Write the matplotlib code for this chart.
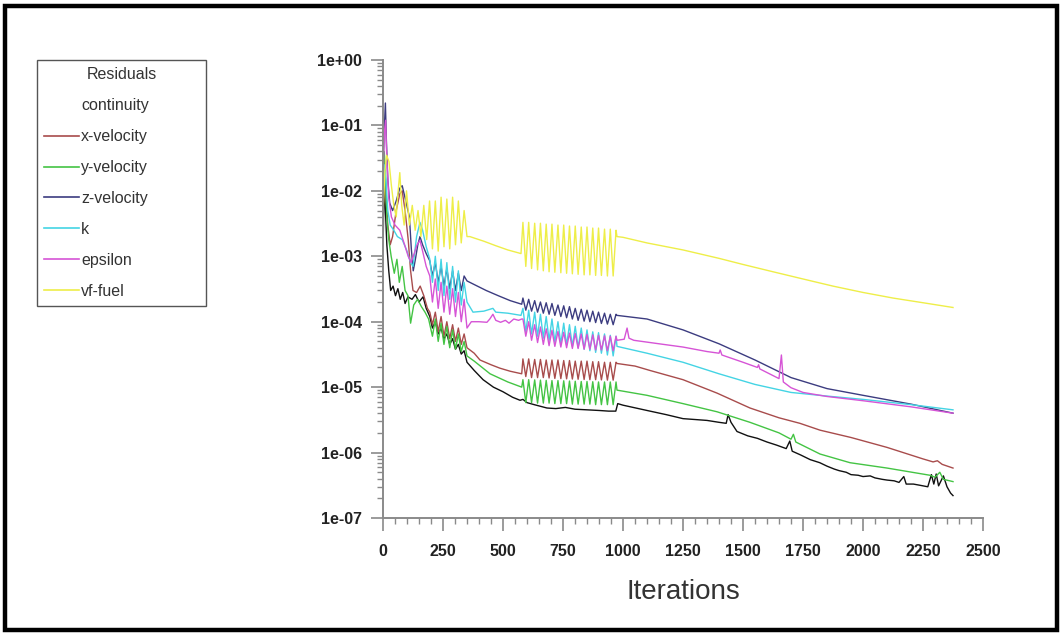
import matplotlib
matplotlib.use("Agg")
import matplotlib.pyplot as plt
from matplotlib.lines import Line2D
from matplotlib.patches import Rectangle
from matplotlib.ticker import LogLocator, MultipleLocator, FuncFormatter, NullFormatter

plt.rcParams['font.family'] = ['Liberation Sans', 'DejaVu Sans']

# Residual names and colours (legend order)
NAMES = ['continuity', 'x-velocity', 'y-velocity', 'z-velocity', 'k', 'epsilon', 'vf-fuel']
COLORS = ['#111111', '#a84c4c', '#44c444', '#3c3c80', '#44d4e4', '#d654d6', '#eeee48']
LEGEND_COLORS = ['#ffffff'] + COLORS[1:]

# shared iteration grids for the two oscillating phases
EZ_ITER = [206, 218, 230, 242, 254, 266, 278, 290, 302, 314, 326, 338, 350]
ZZ_ITER = [583, 595, 607, 619, 632, 644, 656, 668, 680, 692, 704, 716, 729, 741, 753, 765, 777,
           789, 801, 813, 826, 838, 850, 862, 874, 886, 898, 910, 923, 935, 947, 959, 971]

# ---- vf-fuel
fuel_a_it = [1, 8, 15, 25, 35, 45, 55, 62, 70, 78, 88, 98, 110, 122, 134, 146, 158, 170, 182, 194]
fuel_a = [5e-3, 2e-2, 3.5e-2, 2.8e-2, 1.2e-2, 6e-3, 4e-3, 9e-3, 1.9e-2, 6e-3, 3e-3, 1e-2, 3e-3,
          6e-3, 2.5e-3, 5e-3, 2e-3, 6e-3, 1.8e-3, 7e-3]
fuel_ez = [1.3e-3, 7e-3, 1.2e-3, 8e-3, 1.4e-3, 7.5e-3, 1.3e-3, 8e-3, 1.5e-3, 7e-3, 1.6e-3, 5e-3, 2e-3]
fuel_b_it = [362, 380, 420, 470, 520, 575]
fuel_b = [2.0e-3, 1.9e-3, 1.7e-3, 1.45e-3, 1.25e-3, 1.1e-3]
fuel_zz = [3.3e-3, 7e-4, 3.3e-3, 6.5e-4, 3.2e-3, 6.2e-4, 3.2e-3, 6e-4, 3.1e-3, 5.8e-4, 3.1e-3, 5.7e-4,
           3.0e-3, 5.6e-4, 3.0e-3, 5.5e-4, 2.9e-3, 5.4e-4, 2.9e-3, 5.3e-4, 2.8e-3, 5.2e-4, 2.8e-3,
           5.2e-4, 2.7e-3, 5.1e-4, 2.7e-3, 5.1e-4, 2.6e-3, 5e-4, 2.6e-3, 5e-4, 2.5e-3]
fuel_c_it = [975, 1000, 1100, 1250, 1400, 1500, 1625, 1750, 1875, 2000, 2125, 2250, 2375]
fuel_c = [2.0e-3, 1.95e-3, 1.6e-3, 1.25e-3, 9.3e-4, 7.5e-4, 5.8e-4, 4.5e-4, 3.5e-4, 2.8e-4,
          2.3e-4, 1.95e-4, 1.65e-4]

# ---- z-velocity
zvel_a_it = [1, 6, 10, 14, 20, 28, 40, 55, 70, 80, 95, 110, 118, 126, 135, 145, 154, 165, 180, 195]
zvel_a = [3e-2, 1e-1, 2.2e-1, 6e-2, 1.5e-2, 6.5e-3, 5e-3, 7e-3, 1.1e-2, 1.2e-2, 7e-3, 4e-3, 1.3e-3,
          6e-4, 9e-4, 1.5e-3, 2.0e-3, 1.5e-3, 1.1e-3, 8.5e-4]
zvel_ez = [5e-4, 8e-4, 4e-4, 7e-4, 3.5e-4, 6.5e-4, 3.2e-4, 6e-4, 3e-4, 5.5e-4, 3e-4, 5e-4, 4.2e-4]
zvel_b_it = [380, 430, 480, 530, 578]
zvel_b = [3.7e-4, 3e-4, 2.5e-4, 2.1e-4, 1.85e-4]
zvel_zz = [2.3e-4, 1.5e-4, 2.2e-4, 1.45e-4, 2.1e-4, 1.4e-4, 2.0e-4, 1.35e-4, 1.95e-4, 1.3e-4,
           1.9e-4, 1.25e-4, 1.8e-4, 1.2e-4, 1.75e-4, 1.15e-4, 1.7e-4, 1.1e-4, 1.6e-4, 1.05e-4,
           1.55e-4, 1.02e-4, 1.5e-4, 1e-4, 1.45e-4, 9.7e-5, 1.4e-4, 9.4e-5, 1.35e-4, 9.2e-5,
           1.3e-4, 9e-5, 1.3e-4]
zvel_c_it = [975, 1100, 1250, 1400, 1550, 1700, 1850, 2000, 2200, 2375]
zvel_c = [1.25e-4, 1.1e-4, 7.5e-5, 4.6e-5, 2.6e-5, 1.4e-5, 9.5e-6, 7.5e-6, 5.5e-6, 4.0e-6]

# ---- k
k_a_it = [1, 6, 12, 20, 30, 45, 60, 80, 100, 115, 125, 140, 154, 165, 180, 195]
k_a = [8e-3, 2.5e-2, 1.5e-2, 5e-3, 3e-3, 2.5e-3, 2e-3, 1.8e-3, 1.2e-3, 8e-4, 7e-4, 2e-3, 3.3e-3,
       2.5e-3, 1.4e-3, 9e-4]
k_ez = [4e-4, 1e-3, 3e-4, 9e-4, 2.5e-4, 8e-4, 2.2e-4, 7e-4, 2e-4, 6e-4, 1.8e-4, 4e-4, 2e-4]
k_b_it = [375, 420, 458, 470, 520, 575]
k_b = [1.4e-4, 1.45e-4, 1.6e-4, 1.4e-4, 1.35e-4, 1.25e-4]
k_zz = [1.6e-4, 7e-5, 1.5e-4, 6.5e-5, 1.4e-4, 6e-5, 1.3e-4, 5.6e-5, 1.2e-4, 5.2e-5, 1.1e-4, 4.9e-5,
        1.0e-4, 4.6e-5, 9.5e-5, 4.4e-5, 9e-5, 4.2e-5, 8.5e-5, 4e-5, 8e-5, 3.8e-5, 7.5e-5, 3.6e-5,
        7e-5, 3.4e-5, 6.8e-5, 3.3e-5, 6.5e-5, 3.1e-5, 6.2e-5, 3e-5, 6e-5]
k_c_it = [975, 1100, 1250, 1400, 1550, 1700, 1850, 2000, 2200, 2375]
k_c = [4.2e-5, 3.3e-5, 2.4e-5, 1.6e-5, 1.1e-5, 8.3e-6, 7.3e-6, 6.5e-6, 5.4e-6, 4.5e-6]

# ---- epsilon
eps_a_it = [1, 6, 11, 16, 24, 35, 50, 70, 90, 105, 117, 130, 142, 154, 165, 180, 195]
eps_a = [2e-2, 8e-2, 1.2e-1, 3e-2, 8e-3, 4e-3, 3e-3, 2.5e-3, 1.5e-3, 1e-3, 8e-4, 1.1e-3, 1.5e-3,
         1.75e-3, 1.2e-3, 7e-4, 5e-4]
eps_ez = [2e-4, 4.5e-4, 1.6e-4, 4e-4, 1.4e-4, 3.5e-4, 1.3e-4, 3.2e-4, 1.2e-4, 2.8e-4, 1e-4, 2.2e-4, 8e-5]
eps_b_it = [368, 400, 433, 445, 458, 470, 490, 510, 525, 545, 565, 578]
eps_b = [1.0e-4, 1.0e-4, 9.8e-5, 1.1e-4, 1.3e-4, 1.05e-4, 9.8e-5, 1.05e-4, 9.5e-5, 1.1e-4, 1.05e-4, 1.1e-4]
eps_zz = [1.1e-4, 6e-5, 1.0e-4, 5.2e-5, 9e-5, 4.8e-5, 8.3e-5, 4.5e-5, 7.8e-5, 4.3e-5, 7.4e-5, 4.2e-5,
          7.1e-5, 4.1e-5, 6.9e-5, 4e-5, 6.7e-5, 3.9e-5, 6.6e-5, 3.9e-5, 6.5e-5, 3.8e-5, 6.4e-5, 3.8e-5,
          6.3e-5, 3.7e-5, 6.2e-5, 3.7e-5, 6.1e-5, 3.6e-5, 6.0e-5, 3.6e-5, 6.0e-5]
eps_c_it = [975, 1005, 1017, 1025, 1045, 1150, 1250, 1350, 1400, 1405, 1412, 1500, 1560, 1565, 1570,
            1650, 1660, 1668, 1700, 1750, 1850, 2000, 2200, 2375]
eps_c = [5.2e-5, 5.4e-5, 8e-5, 5.6e-5, 5.2e-5, 4.6e-5, 4.1e-5, 3.5e-5, 3.3e-5, 3.7e-5, 3.1e-5,
         2.4e-5, 2e-5, 2.2e-5, 1.9e-5, 1.35e-5, 3.1e-5, 1.2e-5, 9.8e-6, 8.3e-6, 7.2e-6, 6.2e-6,
         5e-6, 4.0e-6]

# ---- x-velocity
xvel_a_it = [1, 6, 12, 20, 30, 40, 55, 70, 80, 92, 105, 115, 125, 140, 155, 170, 185, 195]
xvel_a = [5e-3, 2.5e-2, 1e-2, 3e-3, 1.5e-3, 2e-3, 5e-3, 9e-3, 1e-2, 5e-3, 1.8e-3, 6e-4, 3e-4,
          2.8e-4, 3.5e-4, 2.5e-4, 1.6e-4, 1.4e-4]
xvel_ez = [9e-5, 1.4e-4, 7e-5, 1.2e-4, 6e-5, 1e-4, 5.5e-5, 9e-5, 5e-5, 8e-5, 4.5e-5, 6.5e-5, 4e-5]
xvel_b_it = [380, 404, 450, 487, 530, 578]
xvel_b = [3.3e-5, 2.6e-5, 2.2e-5, 1.95e-5, 1.75e-5, 1.6e-5]
xvel_zz = [2.7e-5, 1.45e-5, 2.7e-5, 1.4e-5, 2.65e-5, 1.4e-5, 2.65e-5, 1.4e-5, 2.6e-5, 1.38e-5,
           2.6e-5, 1.36e-5, 2.6e-5, 1.35e-5, 2.55e-5, 1.34e-5, 2.55e-5, 1.33e-5, 2.5e-5, 1.32e-5,
           2.5e-5, 1.31e-5, 2.5e-5, 1.3e-5, 2.45e-5, 1.3e-5, 2.45e-5, 1.29e-5, 2.4e-5, 1.28e-5,
           2.4e-5, 1.28e-5, 2.4e-5]
xvel_c_it = [975, 1050, 1112, 1250, 1392, 1529, 1650, 1737, 1821, 1950, 2100, 2250, 2292, 2310,
             2330, 2375]
xvel_c = [2.3e-5, 2.1e-5, 1.8e-5, 1.3e-5, 8.1e-6, 4.8e-6, 3.4e-6, 2.8e-6, 2.2e-6, 1.7e-6, 1.2e-6,
          8e-7, 7.2e-7, 7.5e-7, 6.6e-7, 5.8e-7]

# ---- y-velocity
yvel_a_it = [1, 5, 10, 16, 24, 34, 47, 58, 68, 80, 92, 104, 115, 128, 144, 160, 175, 190]
yvel_a = [1e-2, 4e-2, 2e-2, 4e-3, 1.8e-3, 1e-3, 5.5e-4, 9e-4, 4e-4, 7e-4, 3e-4, 2.5e-4, 9.5e-5,
          1.8e-4, 2.2e-4, 1.7e-4, 1.4e-4, 1.1e-4]
yvel_ez = [6e-5, 1.1e-4, 5e-5, 9.5e-5, 4.5e-5, 8.5e-5, 4e-5, 7.5e-5, 3.8e-5, 6.5e-5, 3.5e-5, 5e-5, 3e-5]
yvel_b_it = [380, 446, 520, 578]
yvel_b = [2.5e-5, 1.6e-5, 1.2e-5, 1e-5]
yvel_zz = [1.3e-5, 5.8e-6, 1.3e-5, 5.8e-6, 1.29e-5, 5.7e-6, 1.28e-5, 5.7e-6, 1.27e-5, 5.7e-6,
           1.26e-5, 5.6e-6, 1.26e-5, 5.6e-6, 1.25e-5, 5.6e-6, 1.24e-5, 5.5e-6, 1.23e-5, 5.5e-6,
           1.22e-5, 5.5e-6, 1.22e-5, 5.5e-6, 1.21e-5, 5.4e-6, 1.2e-5, 5.4e-6, 1.2e-5, 5.4e-6,
           1.2e-5, 5.4e-6, 1.2e-5]
yvel_c_it = [975, 1100, 1250, 1392, 1529, 1650, 1700, 1710, 1720, 1821, 1946, 2100, 2279, 2300,
             2320, 2335, 2375]
yvel_c = [9e-6, 7.5e-6, 5.6e-6, 4.2e-6, 2.9e-6, 2e-6, 1.6e-6, 1.9e-6, 1.45e-6, 9.5e-7, 7e-7,
          5.8e-7, 4.5e-7, 4.2e-7, 5e-7, 3.9e-7, 3.6e-7]

# ---- continuity
cont_a_it = [1, 5, 10, 16, 24, 32, 42, 52, 62, 72, 82, 92, 104, 121, 135, 150, 167, 180, 195]
cont_a = [2e-3, 1.5e-2, 5e-3, 1.5e-3, 6e-4, 3e-4, 3.5e-4, 2.5e-4, 3.2e-4, 2.2e-4, 2.8e-4, 1.9e-4,
          2.4e-4, 2.2e-4, 2.6e-4, 2e-4, 2.4e-4, 1.6e-4, 1.2e-4]
cont_ez = [8e-5, 1.0e-4, 6.5e-5, 8e-5, 5.5e-5, 6.5e-5, 4.5e-5, 5.5e-5, 3.8e-5, 4.5e-5, 3.2e-5, 3.6e-5, 2.4e-5]
cont_b_it = [380, 417, 460, 500, 540, 571, 583, 600, 630, 683, 720, 760, 800, 850, 900, 940, 970,
             978, 1000, 1100, 1180, 1250, 1300, 1350, 1400, 1430, 1438, 1450, 1475, 1520, 1560,
             1600, 1640, 1680, 1695, 1705, 1740, 1780, 1820, 1850, 1880, 1900, 1930, 1950, 1980,
             2000, 2030, 2050, 2080, 2100, 2130, 2150, 2170, 2180, 2210, 2230, 2250, 2270, 2285,
             2295, 2305, 2315, 2335, 2350, 2365, 2375]
cont_b = [1.8e-5, 1.3e-5, 1e-5, 8.5e-6, 7e-6, 6.3e-6, 6.5e-6, 5.8e-6, 5.4e-6, 4.8e-6, 4.7e-6,
          4.9e-6, 4.6e-6, 4.5e-6, 4.4e-6, 4.3e-6, 4.3e-6, 5.6e-6, 5.3e-6, 4.4e-6, 3.8e-6, 3.3e-6,
          3.2e-6, 3.1e-6, 2.9e-6, 2.8e-6, 3.8e-6, 2.9e-6, 2.1e-6, 1.8e-6, 1.65e-6, 1.45e-6, 1.3e-6,
          1.15e-6, 1.5e-6, 1.05e-6, 9.2e-7, 7.8e-7, 7e-7, 6.2e-7, 5.6e-7, 5.3e-7, 5.0e-7, 4.6e-7,
          4.5e-7, 4.3e-7, 4.4e-7, 4.1e-7, 3.9e-7, 3.8e-7, 3.7e-7, 3.5e-7, 4.3e-7, 3.3e-7, 3.3e-7,
          3.2e-7, 3.1e-7, 3.0e-7, 4.6e-7, 3.3e-7, 4.7e-7, 3.1e-7, 4.4e-7, 3.0e-7, 2.4e-7, 2.2e-7]

series = [
    (cont_a_it + EZ_ITER + cont_b_it, cont_a + cont_ez + cont_b),
    (xvel_a_it + EZ_ITER + xvel_b_it + ZZ_ITER + xvel_c_it, xvel_a + xvel_ez + xvel_b + xvel_zz + xvel_c),
    (yvel_a_it + EZ_ITER + yvel_b_it + ZZ_ITER + yvel_c_it, yvel_a + yvel_ez + yvel_b + yvel_zz + yvel_c),
    (zvel_a_it + EZ_ITER + zvel_b_it + ZZ_ITER + zvel_c_it, zvel_a + zvel_ez + zvel_b + zvel_zz + zvel_c),
    (k_a_it + EZ_ITER + k_b_it + ZZ_ITER + k_c_it, k_a + k_ez + k_b + k_zz + k_c),
    (eps_a_it + EZ_ITER + eps_b_it + ZZ_ITER + eps_c_it, eps_a + eps_ez + eps_b + eps_zz + eps_c),
    (fuel_a_it + EZ_ITER + fuel_b_it + ZZ_ITER + fuel_c_it, fuel_a + fuel_ez + fuel_b + fuel_zz + fuel_c),
]

W, H = 1063, 634
fig = plt.figure(figsize=(W / 100, H / 100), dpi=100)
ax = fig.add_axes([383 / W, 1 - 518 / H, 600 / W, 458 / H])

for (it, vals), c in zip(series, COLORS):
    ax.plot(it, vals, color=c, lw=1.0)

ax.set_yscale('log')
ax.set_ylim(1e-7, 1e0)
ax.set_xlim(0, 2500)
ax.xaxis.set_major_locator(MultipleLocator(250))
ax.xaxis.set_minor_locator(MultipleLocator(50))
ax.yaxis.set_major_locator(LogLocator(base=10, numticks=10))
ax.yaxis.set_minor_locator(LogLocator(base=10, subs=range(2, 10), numticks=20))
ax.yaxis.set_minor_formatter(NullFormatter())
ax.yaxis.set_major_formatter(FuncFormatter(lambda v, p: f"{v:.0e}"))

for s in ['top', 'right']:
    ax.spines[s].set_visible(False)
for s in ['left', 'bottom']:
    ax.spines[s].set_color('#8a8a8a')
    ax.spines[s].set_linewidth(1.4)

ax.tick_params(which='major', direction='out', length=9, width=1.2, color='#8a8a8a',
               labelsize=11.5, labelcolor='#222222')
ax.tick_params(which='minor', direction='out', length=4, width=1.0, color='#8a8a8a')
ax.tick_params(axis='x', which='major', pad=10)
ax.tick_params(axis='y', which='major', pad=6)
for lab in ax.get_xticklabels() + ax.get_yticklabels():
    lab.set_fontweight('bold')

ax.set_xlabel('Iterations', fontsize=20, color='#333333', labelpad=14)

handles = [Line2D([], [], color=c, lw=1.2) for c in LEGEND_COLORS]
leg = fig.legend(handles, NAMES, title='Residuals', loc='upper left',
                 bbox_to_anchor=(37 / W, 1 - 60 / H, 169 / W, 0.0), mode='expand',
                 borderaxespad=0, fontsize=11.5, title_fontsize=11.5, labelspacing=1.0,
                 handlelength=2.2, handletextpad=0.1, borderpad=0.45,
                 fancybox=False, framealpha=1, edgecolor='#555555', labelcolor='#333333')
leg.get_frame().set_linewidth(1.0)
leg.get_title().set_color('#333333')

# thick black outer frame
fig.patches.append(Rectangle((5 / W, 4 / H), 1052 / W, 624 / H, transform=fig.transFigure,
                             fill=False, edgecolor='black', linewidth=3.2))

fig.savefig('out.png', dpi=100, facecolor='white')
